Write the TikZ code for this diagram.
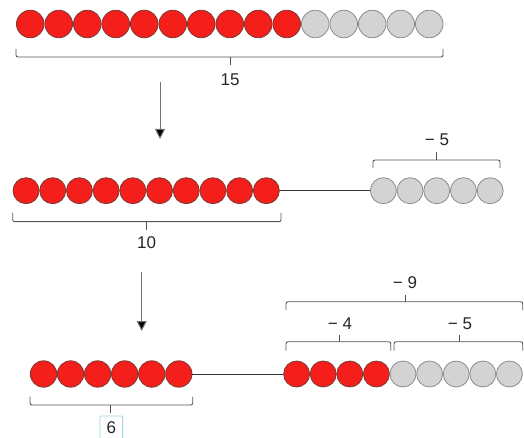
\documentclass[tikz,border=0pt]{standalone}
\usepackage{fontspec}
\setmainfont{Liberation Sans}
\usetikzlibrary{arrows.meta}
\definecolor{beadred}{HTML}{F41F1A}
\definecolor{beadredline}{HTML}{7A3A34}
\definecolor{beadgray}{HTML}{D3D3D3}
\definecolor{beadgrayline}{HTML}{8C8C8C}
\definecolor{bracecol}{HTML}{555555}
\definecolor{boxblue}{HTML}{9FD6E6}
\tikzset{
  bead/.style={circle, inner sep=0pt, line width=0.8pt},
  redbead/.style={bead, fill=beadred, draw=beadredline},
  graybead/.style={bead, fill=beadgray, draw=beadgrayline},
  brace/.style={draw=bracecol, line width=0.9pt, rounded corners=2pt},
  rod/.style={draw=black!80, line width=1pt},
  flow/.style={draw=black!55, line width=1pt, -{Triangle[length=10pt,width=10pt,fill=black]}},
  lbl/.style={font=\fontsize{17}{19}\selectfont, text=black!85, inner sep=0pt},
}
\begin{document}
\begin{tikzpicture}[x=1pt,y=-1pt]
\useasboundingbox (0,0) rectangle (524,438);
\clip (0,0) rectangle (524,438);

% ---- row 1: ten red and five gray beads
\foreach \i in {1,...,10}
  \node[redbead, minimum size=27.6pt] (a\i) at ({30.25+(\i-1)*28.5},24) {};
\foreach \i in {11,...,15}
  \node[graybead, minimum size=27.6pt] (a\i) at ({30.25+(\i-1)*28.5},24) {};
\draw[brace] (16,49) -- (16,57) -- (443,57) -- (443,49);
\draw[brace, rounded corners=0pt] (230,57) -- (230,65);
\node[lbl] (t15) at (230,80) {15};

% ---- arrow to row 2
\coordinate (s1) at (160,82);
\coordinate (e1) at (160,139);
\draw[flow] (s1) -- (e1);

% ---- row 2: ten red beads, rod, five gray beads
\foreach \i in {1,...,10}
  \node[redbead, minimum size=26pt] (b\i) at ({26.05+(\i-1)*26.7},190.7) {};
\foreach \i in {1,...,5}
  \node[graybead, minimum size=26pt] (c\i) at ({383.35+(\i-1)*26.7},190.7) {};
\draw[rod] (b10) -- (c1);
\draw[brace] (12.7,213) -- (12.7,221.7) -- (281,221.7) -- (281,213);
\draw[brace, rounded corners=0pt] (146.7,221.7) -- (146.7,230);
\node[lbl] (t10) at (146.7,243) {10};
\draw[brace] (373,168) -- (373,160) -- (500,160) -- (500,168);
\draw[brace, rounded corners=0pt] (436.7,160) -- (436.7,152);
\node[lbl] (tm5a) at (437,140) {− 5};

% ---- arrow to row 3
\coordinate (s2) at (141.7,272);
\coordinate (e2) at (141.7,331);
\draw[flow] (s2) -- (e2);

% ---- row 3: six red beads, rod, four red and five gray beads
\foreach \i in {1,...,6}
  \node[redbead, minimum size=26.4pt] (d\i) at ({43.55+(\i-1)*27.05},374) {};
\foreach \i in {1,...,4}
  \node[redbead, minimum size=26pt] (f\i) at ({296.6+(\i-1)*26.6},374) {};
\foreach \i in {5,...,9}
  \node[graybead, minimum size=26pt] (f\i) at ({296.6+(\i-1)*26.6},374) {};
\draw[rod] (d6) -- (f1);

\draw[brace] (30,396.7) -- (30,405) -- (192.7,405) -- (192.7,396.7);
\draw[brace, rounded corners=0pt] (110.7,405) -- (110.7,413);
\node[lbl, draw=boxblue, line width=0.9pt, rounded corners=1pt,
      minimum width=22.7pt, minimum height=24pt] (t6) at (111.3,428) {6};

\draw[brace] (286,350.7) -- (286,341.7) -- (390.7,341.7) -- (390.7,350.7);
\draw[brace, rounded corners=0pt] (339.3,341.7) -- (339.3,335);
\node[lbl] (tm4) at (340,324) {− 4};

\draw[brace] (394,350.7) -- (394,341.7) -- (522.7,341.7) -- (522.7,350.7);
\draw[brace, rounded corners=0pt] (459.3,341.7) -- (459.3,335);
\node[lbl] (tm5b) at (460,324) {− 5};

\draw[brace] (286,310) -- (286,301.7) -- (522.7,301.7) -- (522.7,310);
\draw[brace, rounded corners=0pt] (405,301.7) -- (405,295);
\node[lbl] (tm9) at (405,283) {− 9};
\end{tikzpicture}
\end{document}
